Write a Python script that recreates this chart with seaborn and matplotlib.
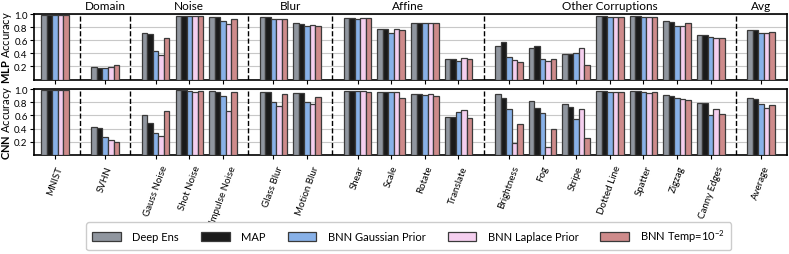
import numpy as np
import pandas as pd
import matplotlib
matplotlib.use('Agg')
import matplotlib.pyplot as plt
import seaborn as sns

# Groups of test sets (title shown above the top panel)
groups = [
    ('', ['MNIST']),
    ('Domain', ['SVHN']),
    ('Noise', ['Gauss Noise', 'Shot Noise', 'Impulse Noise']),
    ('Blur', ['Glass Blur', 'Motion Blur']),
    ('Affine', ['Shear', 'Scale', 'Rotate', 'Translate']),
    ('Other Corruptions', ['Brightness', 'Fog', 'Stripe', 'Dotted Line', 'Spatter', 'Zigzag', 'Canny Edges']),
    ('Avg', ['Average']),
]

methods = ['Deep Ens', 'MAP', 'BNN Gaussian Prior', 'BNN Laplace Prior', 'BNN Temp=$10^{-2}$']

# MLP accuracy, one list per method (order of categories as above)
mlp_deep_ens = [0.98, 0.185, 0.71, 0.97, 0.955, 0.95, 0.86, 0.94, 0.77, 0.87, 0.32, 0.52, 0.48, 0.39, 0.965, 0.965, 0.89, 0.68, 0.75]
mlp_map      = [0.98, 0.175, 0.70, 0.97, 0.95, 0.95, 0.855, 0.94, 0.775, 0.87, 0.32, 0.58, 0.515, 0.39, 0.965, 0.965, 0.885, 0.675, 0.755]
mlp_gauss    = [0.98, 0.175, 0.44, 0.97, 0.90, 0.93, 0.81, 0.93, 0.705, 0.86, 0.29, 0.34, 0.31, 0.405, 0.96, 0.96, 0.81, 0.65, 0.71]
mlp_laplace  = [0.98, 0.185, 0.38, 0.97, 0.85, 0.93, 0.84, 0.945, 0.765, 0.87, 0.33, 0.30, 0.29, 0.48, 0.96, 0.96, 0.81, 0.63, 0.71]
mlp_temp     = [0.98, 0.215, 0.64, 0.97, 0.93, 0.925, 0.81, 0.935, 0.755, 0.865, 0.32, 0.27, 0.31, 0.22, 0.96, 0.96, 0.86, 0.63, 0.72]

# CNN accuracy
cnn_deep_ens = [0.99, 0.42, 0.60, 0.99, 0.965, 0.96, 0.945, 0.975, 0.95, 0.93, 0.58, 0.92, 0.82, 0.78, 0.975, 0.975, 0.91, 0.795, 0.87]
cnn_map      = [0.99, 0.41, 0.49, 0.99, 0.96, 0.96, 0.945, 0.975, 0.95, 0.92, 0.58, 0.86, 0.705, 0.725, 0.975, 0.975, 0.90, 0.795, 0.845]
cnn_gauss    = [0.99, 0.275, 0.33, 0.965, 0.90, 0.805, 0.805, 0.97, 0.95, 0.91, 0.655, 0.69, 0.63, 0.545, 0.96, 0.96, 0.87, 0.61, 0.78]
cnn_laplace  = [0.99, 0.225, 0.285, 0.95, 0.665, 0.74, 0.78, 0.975, 0.955, 0.93, 0.68, 0.18, 0.12, 0.70, 0.96, 0.945, 0.855, 0.70, 0.715]
cnn_temp     = [0.99, 0.205, 0.665, 0.965, 0.96, 0.93, 0.88, 0.96, 0.87, 0.90, 0.555, 0.47, 0.395, 0.265, 0.96, 0.96, 0.835, 0.615, 0.755]

colors = ['#8d95a1', '#1a1a1a', '#78aef8', '#fcc8f3', '#d98080']

# positions: groups separated by an extra half slot
categories, positions, seps, titles = [], [], [], []
pos = 0.0
for gi, (title, cats) in enumerate(groups):
    if gi > 0:
        seps.append(pos - 0.75)
    start = pos
    for c in cats:
        categories.append(c)
        positions.append(pos)
        pos += 1.0
    titles.append((title, (start + pos - 1.0) / 2))
    pos += 0.5


def long_form(series):
    rows = []
    for m, vals in zip(methods, series):
        for p, v in zip(positions, vals):
            rows.append({'pos': p, 'method': m, 'acc': v})
    return pd.DataFrame(rows)


mlp = long_form([mlp_deep_ens, mlp_map, mlp_gauss, mlp_laplace, mlp_temp])
cnn = long_form([cnn_deep_ens, cnn_map, cnn_gauss, cnn_laplace, cnn_temp])

plt.rcParams['font.family'] = ['Lato', 'DejaVu Sans']
plt.rcParams['mathtext.fontset'] = 'custom'
plt.rcParams['mathtext.rm'] = 'Lato'
plt.rcParams['mathtext.bf'] = 'Lato:bold'
plt.rcParams['mathtext.it'] = 'Lato:italic'

fig = plt.figure(figsize=(7.89, 2.55), dpi=100)
ax1 = fig.add_axes([0.043, 0.684, 0.955, 0.257])
ax2 = fig.add_axes([0.043, 0.388, 0.955, 0.259])

for ax, df, name in [(ax1, mlp, 'MLP'), (ax2, cnn, 'CNN')]:
    sns.barplot(data=df, x='pos', y='acc', hue='method', hue_order=methods,
                palette=colors, native_scale=True, width=0.82, errorbar=None,
                edgecolor='#3a3a3a', linewidth=0.9, ax=ax, zorder=3)
    ax.set_ylim(0, 1.0)
    ax.set_xlim(-0.62, 21.78)
    ax.set_yticks([0.2, 0.4, 0.6, 0.8, 1.0])
    ax.set_yticklabels(['0.2', '0.4', '0.6', '0.8', '1.0'], fontsize=7)
    ax.yaxis.grid(True, color='#c8c8c8', linewidth=0.8, zorder=0)
    ax.set_axisbelow(True)
    for s in seps:
        ax.axvline(s, color='black', linestyle='--', linewidth=1.0, zorder=4)
    for sp in ax.spines.values():
        sp.set_linewidth(1.2)
    ax.set_ylabel(r'$\mathbf{' + name + '}$ Accuracy', fontsize=8)
    ax.yaxis.set_label_coords(-0.027, 0.5)
    ax.set_xlabel('')
    ax.set_xticks(positions)
    ax.tick_params(axis='y', length=3, pad=1.5)
    ax.tick_params(axis='x', length=3)
    ax.get_legend().remove()

ax1.set_xticklabels([])
ax2.set_xticklabels(categories, rotation=70, fontsize=7)

for title, x in titles:
    if title:
        ax1.text(x, 1.04, title, ha='center', va='bottom', fontsize=8.5,
                 transform=ax1.get_xaxis_transform())

handles, labels = ax1.get_legend_handles_labels()
fig.legend(handles, labels, loc='center', bbox_to_anchor=(0.518, 0.07), ncol=5,
           fontsize=8, handlelength=2.6, columnspacing=2.0, handletextpad=1.0,
           handleheight=0.9, fancybox=True, framealpha=1.0, borderpad=0.5)

fig.savefig('out.png', dpi=100)
